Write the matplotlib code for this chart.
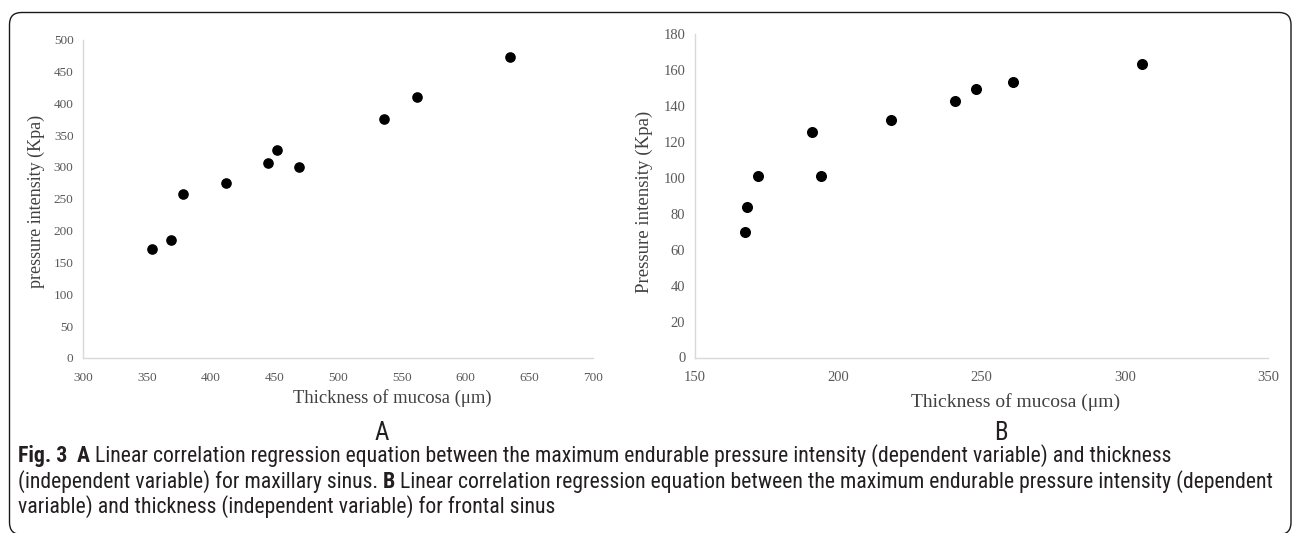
import numpy as np
import matplotlib
matplotlib.use("Agg")
from matplotlib import pyplot as plt
from matplotlib import font_manager
from matplotlib.patches import FancyBboxPatch

# panel A: maxillary sinus
thick_a = [353.8, 369.0, 377.9, 411.9, 445.1, 452.2, 469.4, 535.8, 561.9, 634.9]
press_a = [170.5, 184.6, 257.6, 274.8, 306.0, 326.9, 299.3, 374.9, 409.8, 472.4]

# panel B: frontal sinus
thick_b = [167.4, 168.0, 172.1, 190.8, 194.0, 218.5, 240.8, 248.2, 261.1, 306.0]
press_b = [69.9, 83.7, 101.1, 125.2, 101.1, 132.3, 142.7, 149.5, 153.1, 163.4]

xlabel = "Thickness of mucosa (\u03bcm)"
ylabel_a = "pressure intensity (Kpa)"
ylabel_b = "Pressure intensity (Kpa)"

caption = [
    [("Fig. 3", True), ("A", True), ("Linear correlation regression equation between the maximum "
     "endurable pressure intensity (dependent variable) and thickness", False)],
    [("(independent variable) for maxillary sinus.", False), ("B", True),
     ("Linear correlation regression equation between the maximum endurable pressure "
      "intensity (dependent", False)],
    [("variable) and thickness (independent variable) for frontal sinus", False)],
]

W, H = 1295, 533
serif = "Liberation Serif"
names = {f.name for f in font_manager.fontManager.ttflist}
sans = next((n for n in ["Liberation Sans Narrow", "Roboto Condensed", "Open Sans Condensed",
                          "Noto Sans"] if n in names), "DejaVu Sans")

fig = plt.figure(figsize=(W / 100, H / 100), dpi=100)


def px_rect(x0, y0, x1, y1):
    # pixel box (top-left origin) -> figure fraction rect
    return [x0 / W, 1 - y1 / H, (x1 - x0) / W, (y1 - y0) / H]


# rounded frame round the whole figure
frame = fig.add_axes([0, 0, 1, 1])
frame.set_xlim(0, W)
frame.set_ylim(H, 0)
frame.axis("off")
frame.add_patch(FancyBboxPatch((9.5, 12.5), 1281.5, 522, boxstyle="round,pad=0,rounding_size=12",
                               fc="white", ec="#1a1a1a", lw=1.0))

grey = "#595959"


def style(ax, xs, ys, tsize):
    for s in ["top", "right"]:
        ax.spines[s].set_visible(False)
    for s in ["left", "bottom"]:
        ax.spines[s].set_color("#d9d9d9")
        ax.spines[s].set_linewidth(1.0)
    ax.set_xticks(xs)
    ax.set_yticks(ys)
    ax.set_xlim(xs[0], xs[-1])
    ax.set_ylim(ys[0], ys[-1])
    ax.tick_params(length=0, labelcolor=grey, labelsize=tsize)
    ax.tick_params(axis="y", pad=7)
    ax.tick_params(axis="x", pad=10)
    for lab in ax.get_xticklabels() + ax.get_yticklabels():
        lab.set_fontfamily(serif)
    ax.patch.set_alpha(0)


ax_a = fig.add_axes(px_rect(83.3, 39.5, 593, 358))
ax_a.scatter(thick_a, press_a, s=44, c="black", zorder=3)
style(ax_a, np.arange(300, 701, 50), np.arange(0, 501, 50), 9.5)
ax_a.set_xlabel(xlabel, family=serif, fontsize=13.4, color="#404040")
ax_a.set_ylabel(ylabel_a, family=serif, fontsize=13.0, color="#404040")
ax_a.xaxis.set_label_coords(0.606, -0.126)
ax_a.yaxis.set_label_coords(-0.093, 0.49)
ax_a.xaxis.label.set_va("center")
ax_a.yaxis.label.set_va("center")

ax_b = fig.add_axes(px_rect(695, 34, 1268, 357.5))
ax_b.scatter(thick_b, press_b, s=48, c="black", zorder=3)
style(ax_b, np.arange(150, 351, 50), np.arange(0, 181, 20), 10.5)
ax_b.set_xlabel(xlabel, family=serif, fontsize=14.0, color="#404040")
ax_b.set_ylabel(ylabel_b, family=serif, fontsize=13.6, color="#404040")
ax_b.xaxis.set_label_coords(0.56, -0.137)
ax_b.yaxis.set_label_coords(-0.089, 0.48)
ax_b.xaxis.label.set_va("center")
ax_b.yaxis.label.set_va("center")

# panel letters
fig.text(382 / W, 1 - 433 / H, "A", family=sans, fontsize=18, ha="center", va="center", color="#231f20")
fig.text(1001 / W, 1 - 433 / H, "B", family=sans, fontsize=18, ha="center", va="center", color="#231f20")

# caption with bold runs, laid out piece by piece
renderer = fig.canvas.get_renderer()


def width_of(txt, size, bold):
    t = fig.text(0, 0, txt, family=sans, fontsize=size, fontweight="bold" if bold else "normal")
    w = t.get_window_extent(renderer).width
    t.remove()
    return w


def line_width(segs, size):
    gap = width_of("x x", size, False) - width_of("xx", size, False)
    return sum(width_of(t, size, b) for t, b in segs) + gap * (len(segs) - 1), gap


base = 10.0
w2, _ = line_width(caption[1], base)
csize = base * (1272 - 18) / w2

rows = [456, 482, 507]
for segs, yy in zip(caption, rows):
    _, gap = line_width(segs, csize)
    x = 18.0
    for i, (txt, bold) in enumerate(segs):
        t = fig.text(x / W, 1 - yy / H, txt, family=sans, fontsize=csize,
                     fontweight="bold" if bold else "normal", ha="left", va="center",
                     color="#231f20")
        x += t.get_window_extent(renderer).width + gap * (2 if (i == 0 and txt == "Fig. 3") else 1)

fig.savefig("out.png", dpi=100)
